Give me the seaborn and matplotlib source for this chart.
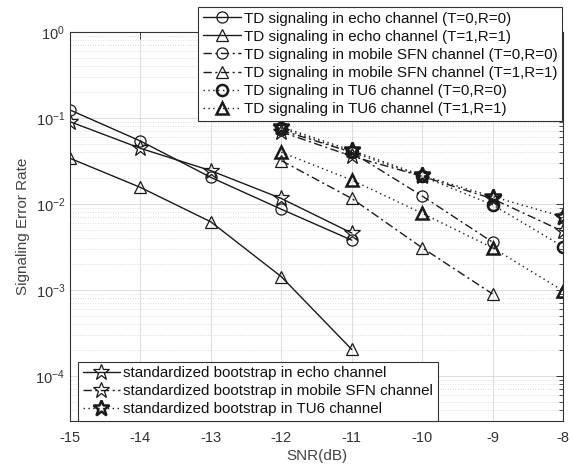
import numpy as np
import pandas as pd
import matplotlib
matplotlib.use("Agg")
import matplotlib.pyplot as plt
import seaborn as sns
from matplotlib.ticker import LogLocator, FixedLocator, NullFormatter

sns.set_theme(style="white")
plt.rcParams['font.family'] = ['Liberation Sans', 'DejaVu Sans']
plt.rcParams['axes.unicode_minus'] = False
plt.rcParams['mathtext.fontset'] = 'custom'
plt.rcParams['mathtext.rm'] = 'Liberation Sans'

# ---- data ----
snr_echo = [-15, -14, -13, -12, -11]
snr_hi = [-12, -11, -10, -9, -8]
snr_sfn = [-12, -11, -10, -9]

echo_t0 = [0.124, 0.054, 0.0204, 0.0087, 0.0038]
echo_t1 = [0.034, 0.0156, 0.0062, 0.00143, 0.000204]
sfn_t0 = [0.072, 0.040, 0.0124, 0.0036]
sfn_t1 = [0.032, 0.0116, 0.0031, 0.0009]
tu6_t0 = [0.076, 0.040, 0.021, 0.0098, 0.0032]
tu6_t1 = [0.040, 0.019, 0.0078, 0.0031, 0.00098]
boot_echo = [0.0906, 0.0444, 0.0244, 0.0116, 0.0046]
boot_sfn = [0.069, 0.036, 0.021, 0.0115, 0.0048]
boot_tu6 = [0.079, 0.042, 0.0215, 0.0122, 0.0071]

labels_top = [
    "TD signaling in echo channel (T=0,R=0)",
    "TD signaling in echo channel (T=1,R=1)",
    "TD signaling in mobile SFN channel (T=0,R=0)",
    "TD signaling in mobile SFN channel (T=1,R=1)",
    "TD signaling in TU6 channel (T=0,R=0)",
    "TD signaling in TU6 channel (T=1,R=1)",
]
labels_bot = [
    "standardized bootstrap in echo channel",
    "standardized bootstrap in mobile SFN channel",
    "standardized bootstrap in TU6 channel",
]
xticks = [-15, -14, -13, -12, -11, -10, -9, -8]

fig = plt.figure(figsize=(5.74, 4.68), dpi=100)
ax = fig.add_axes([70/574, 1-421/468, (563-70)/574, (421-32)/468])

dashdot = (0, (6, 2.5, 1.5, 2.5))
dot = (0, (1, 2.5))
series = [
    (snr_echo, echo_t0, '-', 'o', 8, 0.9),
    (snr_echo, echo_t1, '-', '^', 8, 0.9),
    (snr_sfn, sfn_t0, dashdot, 'o', 8, 0.9),
    (snr_sfn, sfn_t1, dashdot, '^', 8, 0.9),
    (snr_hi, tu6_t0, dot, 'o', 8, 1.8),
    (snr_hi, tu6_t1, dot, '^', 8, 1.8),
]
boot = [
    (snr_echo, boot_echo, '-', '*', 12, 0.9),
    (snr_hi, boot_sfn, dashdot, '*', 12, 0.9),
    (snr_hi, boot_tu6, dot, '*', 12, 1.8),
]

handles_top, handles_bot = [], []
for (xs, ys, ls, mk, ms, mew), lab in zip(series, labels_top):
    df = pd.DataFrame({"x": xs, "y": ys})
    n0 = len(ax.lines)
    sns.lineplot(data=df, x="x", y="y", ax=ax, color='#1a1a1a', linestyle=ls,
                 linewidth=1.0, marker=mk, markersize=ms, markerfacecolor='none',
                 markeredgecolor='#1a1a1a', markeredgewidth=mew, legend=False)
    ln = ax.lines[n0]
    ln.set_label(lab)
    handles_top.append(ln)
for (xs, ys, ls, mk, ms, mew), lab in zip(boot, labels_bot):
    df = pd.DataFrame({"x": xs, "y": ys})
    n0 = len(ax.lines)
    sns.lineplot(data=df, x="x", y="y", ax=ax, color='#1a1a1a', linestyle=ls,
                 linewidth=1.0, marker=mk, markersize=ms, markerfacecolor='none',
                 markeredgecolor='#1a1a1a', markeredgewidth=mew, legend=False)
    ln = ax.lines[n0]
    ln.set_label(lab)
    handles_bot.append(ln)

ax.set_yscale('log')
ax.set_ylim(3.0e-5, 1.0)
ax.set_xlim(-15, -8)
ax.xaxis.set_major_locator(FixedLocator(xticks))
ax.set_xticklabels([str(v) for v in xticks])
ax.yaxis.set_major_locator(LogLocator(base=10, numticks=10))
ax.yaxis.set_minor_locator(LogLocator(base=10, subs=np.arange(2, 10), numticks=20))
ax.yaxis.set_minor_formatter(NullFormatter())

ax.grid(True, which='major', axis='both', color='#dcdcdc', linewidth=0.7, linestyle='-')
ax.grid(True, which='minor', axis='y', color='#d0d0d0', linewidth=0.6, linestyle=(0, (1, 2)))
ax.set_axisbelow(True)

tc = '#333333'
ax.tick_params(axis='both', which='both', direction='in', top=True, right=True,
               colors=tc, labelsize=10.5, labelcolor=tc)
ax.tick_params(axis='both', which='major', length=5, width=0.7)
ax.tick_params(axis='y', which='minor', length=3, width=0.6)
ax.tick_params(axis='x', which='major', pad=7)
for s in ax.spines.values():
    s.set_color(tc)
    s.set_linewidth(0.8)
    s.set_visible(True)

ax.set_xlabel("SNR(dB)", fontsize=11, color='#444444', labelpad=3)
ax.set_ylabel("Signaling Error Rate", fontsize=11, color='#444444', labelpad=4)

leg_kw = dict(borderaxespad=0, fontsize=10.9, frameon=True, fancybox=False,
              framealpha=1, edgecolor='#333333', handlelength=2.5,
              handletextpad=0.2, labelspacing=0.27, borderpad=0.3)
leg1 = ax.legend(handles=handles_top, loc='upper right',
                 bbox_to_anchor=(562/574, 1-7/468), bbox_transform=fig.transFigure,
                 **leg_kw)
leg1.get_frame().set_linewidth(0.8)
ax.add_artist(leg1)
leg2 = ax.legend(handles=handles_bot, loc='lower left',
                 bbox_to_anchor=(78/574, 1-421/468), bbox_transform=fig.transFigure,
                 **leg_kw)
leg2.get_frame().set_linewidth(0.8)
for t in leg1.get_texts() + leg2.get_texts():
    t.set_color('#111111')

fig.savefig("out.png", dpi=100)
